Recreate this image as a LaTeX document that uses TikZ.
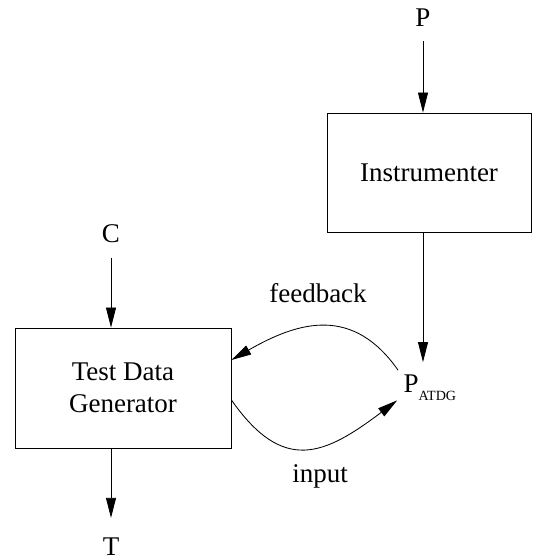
\documentclass[tikz,border=0pt]{standalone}
\usepackage{fontspec}
\setmainfont{Liberation Serif}
\usepackage{tikz}
\usetikzlibrary{arrows.meta}

\begin{document}
\begin{tikzpicture}[x=1cm, y=1cm, line width=0.6pt,
    >={Triangle[length=5mm, width=2.5mm]},
    every node/.append style={font=\fontsize{19.2}{22.7}\selectfont},
    box/.style={draw, inner sep=0, align=center},
    lbl/.style={anchor=base, inner sep=3.5mm}]

      \useasboundingbox (0, 0) rectangle (13.3, 14);

      \node [box, minimum width=5.1cm, minimum height=2.975cm] (instr) at (10.725, 9.6875) {Instrumenter};
      \node [box, minimum width=5.4cm, minimum height=3cm] (tdg) at (3.075, 4.3) {Test Data\\Generator};
      \node [lbl] (prog) at (10.575, 13.325) {P};
      \node [lbl] (crit) at (2.775, 7.925) {C};
      \node [lbl] (tests) at (2.775, 0.1) {T};
      \node [anchor=base west, inner sep=0] (patdg) at (10.08, 4.175)
            {P\raisebox{-2mm}{\fontsize{10}{12}\selectfont ATDG}};
      \node [anchor=base] (fb) at (7.95, 6.425) {feedback};
      \node [anchor=base] (inp) at (8, 1.925) {input};

      \draw [->] (prog.south) -- (prog.south |- instr.north);
      \draw [->, shorten >=3.2mm] (prog.south |- instr.south) -- (prog.south |- patdg.north);
      \draw [->] (crit.south) -- (crit.south |- tdg.north);
      \draw [->, shorten >=1.5mm] (crit.south |- tdg.south) -- (tests.north);
      \draw [->] ([shift={(-1.3mm, 1.2mm)}]patdg.north west)
            to [out=125, in=30, looseness=1.2] ([yshift=7mm]tdg.east);
      \draw [->] ([yshift=-3mm]tdg.east)
            to [out=-55, in=-143, looseness=1.4] ([shift={(-1.5mm, 0.3mm)}]patdg.south west);

    \end{tikzpicture}
\end{document}
